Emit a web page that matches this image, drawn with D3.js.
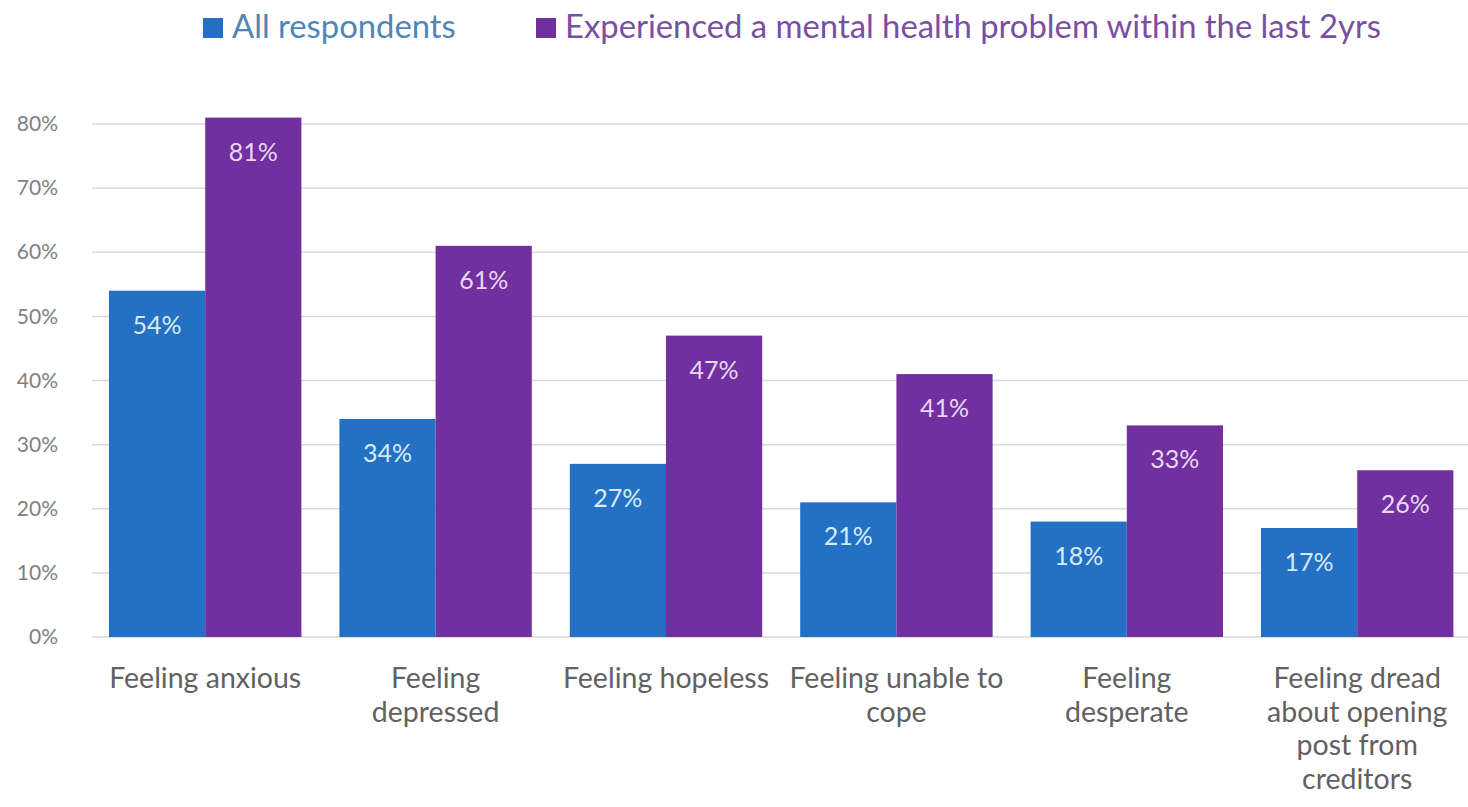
<!DOCTYPE html>
<html>
<head>
<meta charset="utf-8">
<script src="https://cdn.jsdelivr.net/npm/d3@7"></script>
<style>
  html, body { margin: 0; padding: 0; background: #fff; }
  svg { display: block; font-family: Lato, "Open Sans", sans-serif; }
</style>
</head>
<body>
<svg id="chart" width="1468" height="807"></svg>
<script>
// Feelings reported, by respondent group (percent)
const categories = [
  ["Feeling anxious"],
  ["Feeling", "depressed"],
  ["Feeling hopeless"],
  ["Feeling unable to", "cope"],
  ["Feeling", "desperate"],
  ["Feeling dread", "about opening", "post from", "creditors"]
];
const seriesNames = ["All respondents", "Experienced a mental health problem within the last 2yrs"];
const allRespondents = [54, 34, 27, 21, 18, 17];
const mentalHealth = [81, 61, 47, 41, 33, 26];
const yTicks = [0, 10, 20, 30, 40, 50, 60, 70, 80];
const colors = ["#2370c4", "#7030a0"];
const legendTextColors = ["#4f86b8", "#7a4fa3"];

const svg = d3.select("#chart");
const width = 1468;
const plotBottom = 637, plotTop = 124;

const x0 = d3.scaleBand()
  .domain(d3.range(categories.length))
  .range([90, 90 + 6 * 230.4])
  .paddingInner(38 / 230.4)
  .paddingOuter(19 / 230.4);

const x1 = d3.scaleBand()
  .domain([0, 1])
  .range([0, x0.bandwidth()]);

const y = d3.scaleLinear().domain([0, 80]).range([plotBottom, plotTop]);

// gridlines
svg.append("g")
  .selectAll("line")
  .data(yTicks)
  .join("line")
  .attr("x1", 92)
  .attr("x2", width)
  .attr("y1", d => y(d))
  .attr("y2", d => y(d))
  .attr("stroke", "#d9d9d9")
  .attr("stroke-width", 1.5);

// y axis labels
const yAxis = d3.axisLeft(y).tickValues(yTicks).tickFormat(d => d + "%").tickSize(0).tickPadding(0);
const yg = svg.append("g").attr("transform", "translate(58,0)").call(yAxis);
yg.select(".domain").remove();
yg.selectAll("text")
  .attr("fill", "#808080")
  .style("font-size", "21px")
  .style("font-family", "Lato, 'Open Sans', sans-serif");

// bars
const rows = categories.map((c, i) => [allRespondents[i], mentalHealth[i]]);
const groups = svg.append("g")
  .selectAll("g")
  .data(rows)
  .join("g")
  .attr("transform", (d, i) => `translate(${x0(i)},0)`);

groups.selectAll("rect")
  .data(d => d.map((v, s) => ({ v, s })))
  .join("rect")
  .attr("x", d => x1(d.s))
  .attr("width", x1.bandwidth())
  .attr("y", d => y(d.v))
  .attr("height", d => y(0) - y(d.v))
  .attr("fill", d => colors[d.s]);

groups.selectAll("text")
  .data(d => d.map((v, s) => ({ v, s })))
  .join("text")
  .attr("x", d => x1(d.s) + x1.bandwidth() / 2)
  .attr("y", d => y(d.v) + 43)
  .attr("text-anchor", "middle")
  .attr("fill", d => d.s === 0 ? "#d6ecf5" : "#ead7f2")
  .style("font-size", "25px")
  .text(d => d.v + "%");

// category labels
const cat = svg.append("g")
  .selectAll("text")
  .data(categories)
  .join("text")
  .attr("x", (d, i) => x0(i) + x0.bandwidth() / 2)
  .attr("y", 688)
  .attr("text-anchor", "middle")
  .attr("fill", "#616161")
  .style("font-size", "28.5px");
cat.selectAll("tspan")
  .data(d => d)
  .join("tspan")
  .attr("x", function () { return d3.select(this.parentNode).attr("x"); })
  .attr("dy", (d, i) => i === 0 ? 0 : 33.5)
  .text(d => d);

// legend
const legendX = [203, 536];
const legend = svg.append("g")
  .selectAll("g")
  .data(seriesNames)
  .join("g")
  .attr("transform", (d, i) => `translate(${legendX[i]},18)`);
legend.append("rect")
  .attr("width", 20).attr("height", 20)
  .attr("fill", (d, i) => colors[i]);
legend.append("text")
  .attr("x", 29).attr("y", 20)
  .attr("fill", (d, i) => legendTextColors[i])
  .style("font-size", "32.8px")
  .text(d => d);
</script>
</body>
</html>
